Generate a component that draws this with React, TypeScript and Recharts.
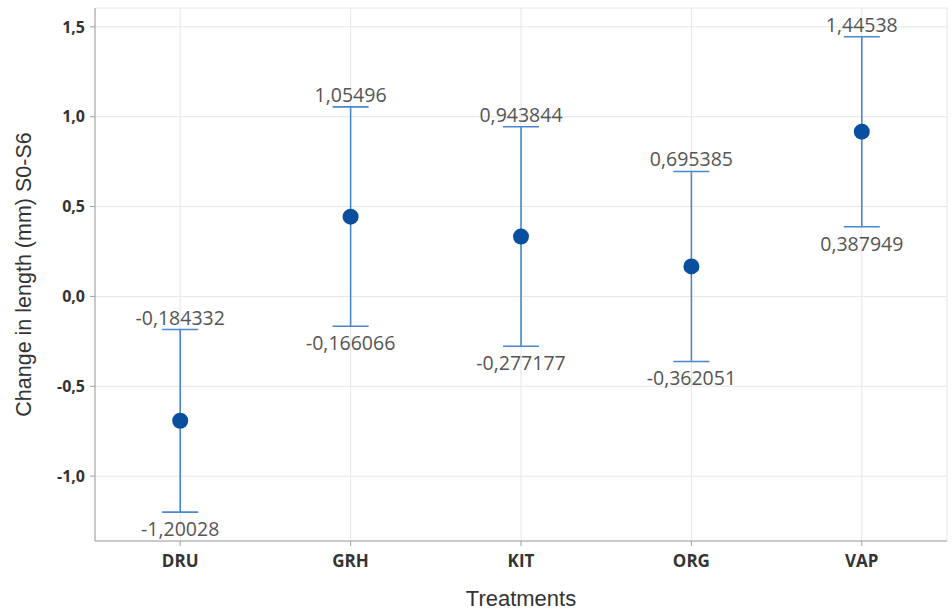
import React from 'react';
import { ComposedChart, Scatter, ErrorBar, XAxis, YAxis, CartesianGrid } from 'recharts';

// Treatment groups and their interval bounds / means (change in length, mm)
const treatments = ['DRU', 'GRH', 'KIT', 'ORG', 'VAP'];
const means = [-0.692, 0.444, 0.333, 0.167, 0.917];
const upperBounds = [-0.184332, 1.05496, 0.943844, 0.695385, 1.44538];
const lowerBounds = [-1.20028, -0.166066, -0.277177, -0.362051, 0.387949];
const yTicks = [-1, -0.5, 0, 0.5, 1, 1.5];

const LINE_BLUE = '#4a87cc';
const DOT_BLUE = '#0a4f9f';
const LABEL_FONT = '"Open Sans", "Noto Sans", sans-serif';
const TITLE_FONT = '"Liberation Sans", Arial, sans-serif';
const Y_DOMAIN: [number, number] = [-1.361, 1.605];

const rows = treatments.map((t, i) => ({
  name: t,
  mean: means[i],
  upper: upperBounds[i],
  lower: lowerBounds[i],
  err: [means[i] - lowerBounds[i], upperBounds[i] - means[i]],
}));

// decimal comma, like the source software
const comma = (v: number) => String(v).replace('.', ',');
const tickFmt = (v: number) => v.toFixed(1).replace('.', ',');

const Dot = (p: any) => <circle cx={p.cx} cy={p.cy} r={8} fill={DOT_BLUE} />;

const UpperLabel = (p: any) => (
  <text x={p.cx} y={p.cy - 5} textAnchor="middle" fill="#555" fontSize={19.5} fontFamily={LABEL_FONT}>
    {comma(p.payload.upper)}
  </text>
);

const LowerLabel = (p: any) => (
  <text x={p.cx} y={p.cy + 24} textAnchor="middle" fill="#555" fontSize={19.5} fontFamily={LABEL_FONT}>
    {comma(p.payload.lower)}
  </text>
);

export default function App() {
  return (
    <div style={{ position: 'absolute', left: 0, top: 0, background: '#fff' }}>
      <ComposedChart width={952} height={610} data={rows} margin={{ top: 8, right: 5, bottom: 0, left: 0 }}>
        <CartesianGrid stroke="#e6e6e6" />
        <XAxis
          dataKey="name"
          type="category"
          scale="band"
          height={69}
          stroke="#a0a0a0"
          tickSize={5}
          tick={{ fill: '#333', fontSize: 17, fontWeight: 700, fontFamily: LABEL_FONT }}
          tickMargin={9}
          label={{
            value: 'Treatments',
            position: 'insideBottom',
            offset: 4,
            fill: '#333',
            fontSize: 22,
            fontFamily: TITLE_FONT,
          }}
        />
        <XAxis xAxisId="top" orientation="top" dataKey="name" scale="band" height={0} tick={false} tickLine={false} stroke="#a0a0a0" />
        <YAxis
          type="number"
          domain={Y_DOMAIN}
          ticks={yTicks}
          width={95}
          stroke="#a0a0a0"
          tickSize={5}
          tickMargin={5}
          tick={{ fill: '#333', fontSize: 16, fontWeight: 700, fontFamily: LABEL_FONT }}
          tickFormatter={tickFmt}
          label={{
            value: 'Change in length (mm) S0-S6',
            angle: -90,
            position: 'insideLeft',
            offset: 23,
            style: { textAnchor: 'middle' },
            fill: '#333',
            fontSize: 21.5,
            fontFamily: TITLE_FONT,
          }}
        />
        <YAxis yAxisId="right" orientation="right" width={0} tick={false} tickLine={false} stroke="#a0a0a0" domain={Y_DOMAIN} />
        <Scatter dataKey="upper" shape={UpperLabel} isAnimationActive={false} />
        <Scatter dataKey="lower" shape={LowerLabel} isAnimationActive={false} />
        <Scatter dataKey="mean" shape={Dot} isAnimationActive={false}>
          <ErrorBar dataKey="err" direction="y" width={18} stroke={LINE_BLUE} strokeWidth={1.6} />
        </Scatter>
      </ComposedChart>
    </div>
  );
}
